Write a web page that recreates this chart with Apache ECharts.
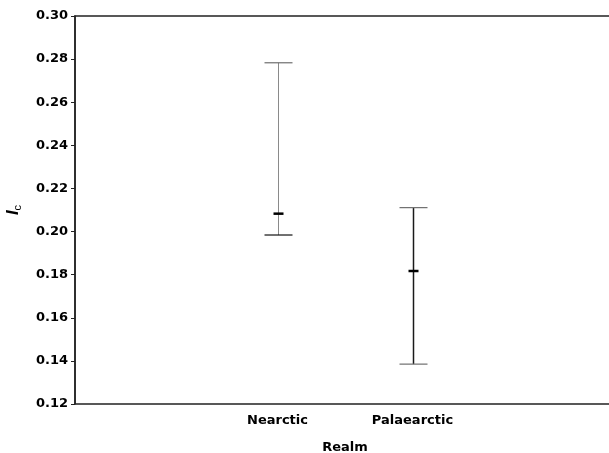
<!DOCTYPE html>
<html>
<head>
    <meta charset="utf-8">
    <title>Realm error bars</title>
    <script src="https://cdn.jsdelivr.net/npm/echarts@6/dist/echarts.min.js"></script>
    <style>
        html, body { margin: 0; padding: 0; background: #fff; }
        #main { width: 609px; height: 453px; }
    </style>
</head>
<body>
    <div id="main"></div>
    <script type="text/javascript">
        // categories (empty slots on both sides keep the spacing of the original)
        var categories = ['', 'Nearctic', 'Palaearctic', ''];
        var realms = [1, 2];
        var lowVals = [0.1984, 0.1385];
        var highVals = [0.2783, 0.2111];
        var meanVals = [0.2083, 0.1817];
        var yTicks = [0.12, 0.14, 0.16, 0.18, 0.20, 0.22, 0.24, 0.26, 0.28, 0.30];

        // per-bar styling: whisker colour/width and cap colours
        var whiskerColor = ['#8a8a8a', '#1a1a1a'];
        var whiskerWidth = [1, 1.5];
        var topCapColor = ['#6e6e6e', '#6e6e6e'];
        var lowCapColor = ['#111', '#6e6e6e'];

        var data = realms.map(function (c, i) {
            return [c, lowVals[i], highVals[i], meanVals[i], i];
        });

        var myChart = echarts.init(document.getElementById('main'));
        var font = '"DejaVu Sans", Verdana, sans-serif';

        myChart.setOption({
            animation: false,
            grid: {
                left: 75, top: 16, width: 540, height: 388,
                outerBoundsMode: 'none',
                show: true, borderColor: '#222', borderWidth: 1.5
            },
            xAxis: {
                type: 'category',
                data: categories,
                name: 'Realm',
                nameLocation: 'middle',
                nameGap: 37,
                nameTextStyle: { fontFamily: font, fontWeight: 'bold', fontSize: 13, color: '#000' },
                axisLine: { show: false },
                axisTick: { show: false },
                axisLabel: { margin: 10, fontFamily: font, fontWeight: 'bold', fontSize: 13, color: '#000' },
                splitLine: { show: false }
            },
            yAxis: {
                type: 'value',
                min: yTicks[0],
                max: yTicks[yTicks.length - 1],
                interval: 0.02,
                name: '{i|I}{s|c}',
                nameLocation: 'middle',
                nameGap: 52,
                nameMoveOverlap: false,
                nameRotate: 90,
                nameTextStyle: {
                    rich: {
                        i: { fontFamily: '"Liberation Sans", Arial, sans-serif', fontStyle: 'italic', fontWeight: 'bold', fontSize: 17, color: '#000' },
                        s: { fontFamily: '"Liberation Sans", Arial, sans-serif', fontSize: 11, color: '#000', padding: [8, 0, 0, 0] }
                    }
                },
                axisLine: { show: true, lineStyle: { color: '#222', width: 1.5 } },
                axisTick: { show: true, inside: false, length: 4, lineStyle: { color: '#222' } },
                axisLabel: {
                    margin: 7,
                    fontFamily: font, fontWeight: 'bold', fontSize: 13, color: '#000',
                    formatter: function (v) { return v.toFixed(2); }
                },
                splitLine: { show: false }
            },
            series: [{
                type: 'custom',
                data: data,
                renderItem: function (params, api) {
                    var x = api.value(0);
                    var k = api.value(4);
                    var lo = api.coord([x, api.value(1)]);
                    var hi = api.coord([x, api.value(2)]);
                    var mn = api.coord([x, api.value(3)]);
                    var cx = Math.round(lo[0]) + 0.5;
                    var capW = 14;
                    var meanW = 5;
                    return {
                        type: 'group',
                        children: [
                            { type: 'line', shape: { x1: cx, y1: hi[1], x2: cx, y2: lo[1] },
                              style: { stroke: whiskerColor[k], lineWidth: whiskerWidth[k] } },
                            { type: 'line', shape: { x1: cx - capW, y1: hi[1], x2: cx + capW, y2: hi[1] },
                              style: { stroke: topCapColor[k], lineWidth: 1.2 } },
                            { type: 'line', shape: { x1: cx - capW, y1: lo[1], x2: cx + capW, y2: lo[1] },
                              style: { stroke: lowCapColor[k], lineWidth: 1.2 } },
                            { type: 'line', shape: { x1: cx - meanW, y1: mn[1], x2: cx + meanW, y2: mn[1] },
                              style: { stroke: '#000', lineWidth: 2.5 } }
                        ]
                    };
                }
            }]
        });
    </script>
</body>
</html>
